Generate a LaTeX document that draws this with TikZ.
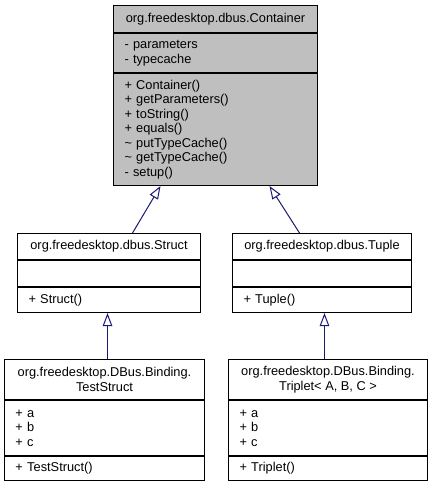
\documentclass[tikz,border=0pt]{standalone}
\usepackage{fontspec}
\setmainfont{Liberation Sans}
\usetikzlibrary{arrows.meta}
\definecolor{classgray}{HTML}{BFBFBF}
\definecolor{edgeblue}{HTML}{191970}

\begin{document}
\begin{tikzpicture}[x=1pt,y=-1pt,
  classbox/.style={draw=black,line width=1pt,anchor=north west,inner xsep=11pt,inner ysep=0pt,font=\fontsize{12.8}{14.5}\selectfont},
  titlepart/.style={classbox,align=center,minimum width=#1},
  listpart/.style={classbox,align=left,text width=#1},
  inherit/.style={draw=edgeblue,line width=1pt,-{Triangle[open,length=13pt,width=9.5pt]}}]
  % Boundary
  \path[use as bounding box] (0,0) rectangle (432,485);
  % Container
  \node[titlepart=204pt,fill=classgray,minimum height=27pt] (containerTitle) at (113,5) {org.freedesktop.dbus.Container};
  \node[listpart=182pt,fill=classgray,minimum height=39pt] (containerAttrs) at (containerTitle.south west) {- parameters\\- typecache};
  \node[listpart=182pt,fill=classgray,minimum height=112pt] (containerMethods) at (containerAttrs.south west) {+ Container()\\+ getParameters()\\+ toString()\\+ equals()\\\textasciitilde{} putTypeCache()\\\textasciitilde{} getTypeCache()\\- setup()};
  % Struct
  \node[titlepart=183pt,minimum height=26pt] (structTitle) at (17,233) {org.freedesktop.dbus.Struct};
  \node[listpart=161pt,minimum height=26pt] (structAttrs) at (structTitle.south west) {};
  \node[listpart=161pt,minimum height=25pt] (structMethods) at (structAttrs.south west) {+ Struct()};
  % Tuple
  \node[titlepart=179pt,minimum height=26pt] (tupleTitle) at (232,233) {org.freedesktop.dbus.Tuple};
  \node[listpart=157pt,minimum height=26pt] (tupleAttrs) at (tupleTitle.south west) {};
  \node[listpart=157pt,minimum height=25pt] (tupleMethods) at (tupleAttrs.south west) {+ Tuple()};
  % TestStruct
  \node[titlepart=200pt,minimum height=40pt] (testStructTitle) at (4,359) {org.freedesktop.DBus.Binding.\\TestStruct};
  \node[listpart=178pt,minimum height=55pt] (testStructAttrs) at (testStructTitle.south west) {+ a\\+ b\\+ c};
  \node[listpart=178pt,minimum height=24pt] (testStructMethods) at (testStructAttrs.south west) {+ TestStruct()};
  % Triplet
  \node[titlepart=199pt,minimum height=40pt] (tripletTitle) at (228,359) {org.freedesktop.DBus.Binding.\\Triplet< A, B, C >};
  \node[listpart=177pt,minimum height=55pt] (tripletAttrs) at (tripletTitle.south west) {+ a\\+ b\\+ c};
  \node[listpart=177pt,minimum height=24pt] (tripletMethods) at (tripletAttrs.south west) {+ Triplet()};
  % Inheritance
  \draw[inherit] ([xshift=23.5pt]structTitle.north) -- ([xshift=-55pt]containerMethods.south);
  \draw[inherit] ([xshift=-22.5pt]tupleTitle.north) -- ([xshift=54pt]containerMethods.south);
  \coordinate (structFoot) at ([xshift=-1.5pt]structMethods.south);
  \coordinate (tupleFoot) at ([xshift=2.5pt]tupleMethods.south);
  \draw[inherit] (structFoot |- testStructTitle.north) -- (structFoot);
  \draw[inherit] (tupleFoot |- tripletTitle.north) -- (tupleFoot);
\end{tikzpicture}
\end{document}
